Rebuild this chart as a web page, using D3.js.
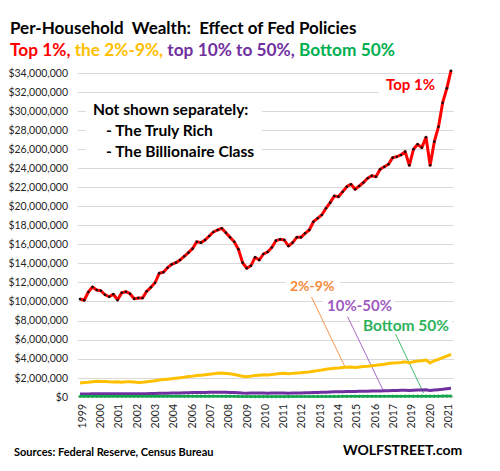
<!DOCTYPE html>
<html><head><meta charset="utf-8">
<script src="https://cdn.jsdelivr.net/npm/d3@7"></script>
<style>
html,body{margin:0;padding:0;background:#fff;}
svg{display:block;font-family:Lato,"Open Sans",sans-serif;}
</style></head>
<body>
<svg id="chart" width="500" height="471"></svg>
<script>
// Quarterly data, 1999 Q1 .. 2021 Q2, values in $ millions per household
const xLabels = ["1999","2000","2001","2002","2003","2004","2006","2007","2008","2009","2010","2011","2012","2013","2014","2015","2016","2017","2019","2020","2021"];
const yTicks = [0,2,4,6,8,10,12,14,16,18,20,22,24,26,28,30,32,34];

const top1 = [
 10.26,10.13,11.00,11.52, 11.21,11.13,10.71,10.50, 10.76,10.16,10.92,11.03, 10.82,10.29,10.37,10.37,
 11.07,11.49,11.97,12.96, 13.07,13.55,13.90,14.08, 14.36,14.75,15.13,15.55, 16.28,16.18,16.46,16.88,
 17.30,17.51,17.69,17.23, 16.74,16.28,15.48,14.08, 13.49,13.76,14.64,14.36, 14.99,15.20,15.67,16.39,
 16.53,16.46,15.83,16.18, 16.74,16.74,17.16,17.51, 18.38,18.74,19.09,19.79, 20.38,21.08,21.01,21.53,
 22.06,22.31,21.79,22.13, 22.50,22.94,23.21,23.11, 23.89,24.16,24.41,25.11, 25.21,25.39,25.74,24.31,
 25.99,26.51,26.16,27.25, 24.31,26.79,28.36,30.88, 32.39,34.24
];
const p2to9 = [
 1.45,1.48,1.52,1.58, 1.62,1.60,1.60,1.57, 1.55,1.58,1.52,1.56, 1.57,1.55,1.50,1.53,
 1.56,1.63,1.68,1.76, 1.80,1.84,1.88,1.95, 2.00,2.05,2.12,2.16, 2.22,2.26,2.30,2.36,
 2.40,2.46,2.48,2.44, 2.40,2.34,2.26,2.14, 2.10,2.16,2.22,2.26, 2.30,2.28,2.34,2.38,
 2.44,2.46,2.40,2.45, 2.50,2.52,2.57,2.60, 2.68,2.74,2.80,2.88, 2.94,2.99,3.02,3.06,
 3.10,3.12,3.07,3.13, 3.16,3.20,3.26,3.30, 3.36,3.42,3.48,3.53, 3.56,3.60,3.66,3.55,
 3.68,3.74,3.78,3.86, 3.55,3.78,3.92,4.10, 4.26,4.45
];
const p10to50 = [
 0.28,0.29,0.29,0.31, 0.32,0.32,0.32,0.32, 0.31,0.32,0.31,0.32, 0.32,0.32,0.31,0.32,
 0.32,0.33,0.34,0.35, 0.36,0.37,0.38,0.39, 0.40,0.41,0.42,0.43, 0.44,0.44,0.45,0.46,
 0.46,0.47,0.47,0.46, 0.45,0.44,0.42,0.39, 0.37,0.38,0.38,0.38, 0.38,0.37,0.38,0.38,
 0.38,0.38,0.37,0.38, 0.39,0.40,0.41,0.42, 0.44,0.45,0.47,0.48, 0.50,0.51,0.52,0.53,
 0.54,0.55,0.55,0.56, 0.57,0.58,0.59,0.60, 0.61,0.62,0.63,0.64, 0.65,0.67,0.68,0.66,
 0.68,0.70,0.71,0.72, 0.64,0.70,0.74,0.78, 0.83,0.88
];
const bottom50 = [
 0.040,0.041,0.041,0.042, 0.043,0.043,0.044,0.044, 0.045,0.046,0.046,0.047, 0.047,0.048,0.048,0.049,
 0.049,0.050,0.051,0.052, 0.053,0.054,0.055,0.056, 0.057,0.058,0.058,0.058, 0.058,0.057,0.055,0.053,
 0.051,0.049,0.046,0.043, 0.040,0.035,0.030,0.025, 0.020,0.018,0.017,0.016, 0.015,0.015,0.016,0.016,
 0.017,0.018,0.018,0.019, 0.020,0.021,0.022,0.023, 0.024,0.026,0.028,0.030, 0.032,0.033,0.034,0.035,
 0.036,0.037,0.038,0.039, 0.040,0.041,0.042,0.043, 0.044,0.045,0.046,0.047, 0.048,0.049,0.050,0.050,
 0.051,0.052,0.053,0.054, 0.053,0.057,0.060,0.063, 0.066,0.070
];

const RED="#FF0000", GOLD="#FFC000", PURPLE="#7030A0", GREEN="#00B050";

const svg = d3.select("#chart");
const x = d3.scaleLinear().domain([0, top1.length-1]).range([80, 451]);
const xl = d3.scalePoint().domain(xLabels).range([81.7, 447.7]);
const y = d3.scaleLinear().domain([0, 34]).range([396.7, 73]);

// gridlines
svg.append("g").selectAll("line").data(yTicks).join("line")
  .attr("x1", 78).attr("x2", 454)
  .attr("y1", d => Math.round(y(d))+0.5).attr("y2", d => Math.round(y(d))+0.5)
  .attr("stroke", "#D9D9D9").attr("stroke-width", 1);

// y axis labels
const yAxis = d3.axisLeft(y).tickValues(yTicks).tickSize(0).tickPadding(0)
  .tickFormat(d => "$" + d3.format(",")(d*1e6));
const gy = svg.append("g").attr("transform","translate(68,0)").call(yAxis);
gy.select(".domain").remove();
gy.selectAll("text").attr("font-family","Lato").attr("font-size","10.5px").attr("fill","#262626");

// x axis labels
const xAxis = d3.axisBottom(xl).tickSize(0).tickPadding(0);
const gx = svg.append("g").attr("transform","translate(0,404)").call(xAxis);
gx.select(".domain").remove();
gx.selectAll("text").attr("font-family","Lato").attr("font-size","10.5px").attr("fill","#262626")
  .attr("text-anchor","end").attr("dy","0.35em")
  .attr("transform","rotate(-90)");

// annotation boxes (white backgrounds)
const ann = svg.append("g");
ann.append("rect").attr("x",86).attr("y",99).attr("width",176).attr("height",62).attr("fill","#fff");
ann.append("rect").attr("x",379).attr("y",77).attr("width",75).attr("height",21).attr("fill","#fff");
ann.append("rect").attr("x",286).attr("y",278).attr("width",54).attr("height",18).attr("fill","#fff");
ann.append("rect").attr("x",323).attr("y",298).attr("width",72).attr("height",18).attr("fill","#fff");
ann.append("rect").attr("x",360).attr("y",318).attr("width",92).attr("height",18).attr("fill","#fff");

// leader lines
ann.append("line").attr("x1",311.5).attr("y1",297).attr("x2",345).attr("y2",367).attr("stroke","#F58A3C").attr("stroke-width",0.9);
ann.append("line").attr("x1",347.5).attr("y1",316.5).attr("x2",383).attr("y2",390).attr("stroke","#A05AC0").attr("stroke-width",0.9);
ann.append("line").attr("x1",395.5).attr("y1",334).attr("x2",423.5).attr("y2",393).attr("stroke","#2DB35B").attr("stroke-width",0.9);

// series lines
const line = arr => d3.line().x((d,i)=>x(i)).y(d=>y(d)).curve(d3.curveLinear)(arr);
svg.append("path").attr("d", line(p2to9)).attr("fill","none").attr("stroke",GOLD).attr("stroke-width",3).attr("stroke-linejoin","round");
svg.append("path").attr("d", line(p10to50)).attr("fill","none").attr("stroke",PURPLE).attr("stroke-width",3).attr("stroke-linejoin","round");
svg.append("path").attr("d", line(bottom50)).attr("fill","none").attr("stroke",GREEN).attr("stroke-width",2.5);
svg.append("g").selectAll("path").data(bottom50).join("path")
  .attr("d", (d,i)=>`M${x(i)-1.6},${y(d)}h3.2M${x(i)},${y(d)-1.6}v3.2`)
  .attr("stroke","#1E9E4A").attr("stroke-width",1.2);
svg.append("path").attr("d", line(top1)).attr("fill","none").attr("stroke",RED).attr("stroke-width",3).attr("stroke-linejoin","round");
svg.append("g").selectAll("circle").data(top1).join("circle")
  .attr("cx",(d,i)=>x(i)).attr("cy",d=>y(d)).attr("r",1.3).attr("fill","#111");

// texts
svg.append("text").attr("x",10).attr("y",34).attr("font-family","Lato").attr("font-weight","bold")
  .attr("font-size","17px").attr("fill","#000").style("white-space","pre")
  .text("Per-Household  Wealth:  Effect of Fed Policies");
const sub = svg.append("text").attr("x",10).attr("y",56).attr("font-family","Lato").attr("font-weight","bold").attr("font-size","17.3px");
sub.append("tspan").attr("fill",RED).text("Top 1%, ");
sub.append("tspan").attr("fill",GOLD).text("the 2%-9%, ");
sub.append("tspan").attr("fill",PURPLE).text("top 10% to 50%, ");
sub.append("tspan").attr("fill",GREEN).text("Bottom 50%");

const note = svg.append("g").attr("font-family","Lato").attr("font-weight","bold").attr("font-size","15.6px").attr("fill","#000");
note.append("text").attr("x",93).attr("y",115).text("Not shown separately:");
note.append("text").attr("x",106).attr("y",136).text("- The Truly Rich");
note.append("text").attr("x",106).attr("y",157).text("- The Billionaire Class");

svg.append("text").attr("x",386).attr("y",90).attr("font-family","Lato").attr("font-weight","bold").attr("font-size","15px").attr("fill",RED).text("Top 1%");
svg.append("text").attr("x",290).attr("y",291).attr("font-family","Lato").attr("font-weight","bold").attr("font-size","14px").attr("fill","#F58A3C").text("2%-9%");
svg.append("text").attr("x",327).attr("y",311).attr("font-family","Lato").attr("font-weight","bold").attr("font-size","15px").attr("fill","#A05AC0").text("10%-50%");
svg.append("text").attr("x",363).attr("y",331).attr("font-family","Lato").attr("font-weight","bold").attr("font-size","15.5px").attr("fill","#2DB35B").text("Bottom 50%");

svg.append("text").attr("x",14).attr("y",456).attr("font-family","Lato").attr("font-weight","bold").attr("font-size","11px").attr("fill","#000").text("Sources: Federal Reserve, Census Bureau");
svg.append("text").attr("x",343).attr("y",455).attr("font-family","Lato").attr("font-weight","bold").attr("font-size","14px").attr("fill","#000").text("WOLFSTREET.com");
</script>
</body></html>
